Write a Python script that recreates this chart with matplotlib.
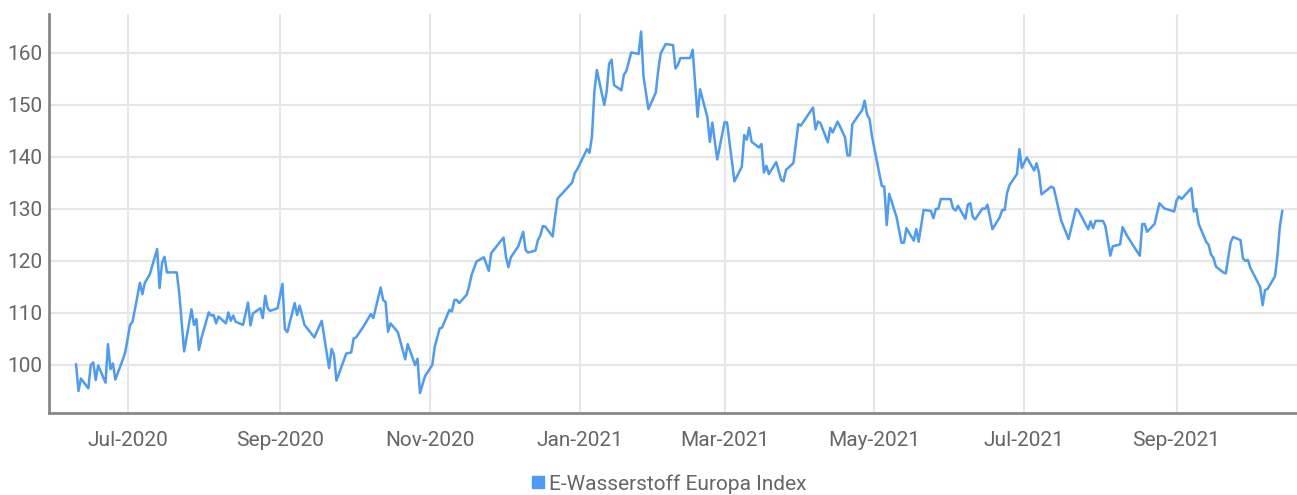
import matplotlib
matplotlib.use("Agg")
import matplotlib.pyplot as plt
import matplotlib.dates as mdates
from matplotlib.lines import Line2D
import pandas as pd

# index level; day = days since 2020-07-01
start = pd.Timestamp("2020-07-01")
days = [-21, -20, -19, -16, -15, -14, -13, -12, -9, -8, -7, -6, -5, -2, -1,
        1, 2, 5, 6, 7, 9, 12, 13, 14, 15, 16, 20, 21, 23, 26, 27, 28, 29, 30,
        33, 34, 35, 36, 37, 40, 41, 42, 43, 44, 47, 49, 50, 51, 54, 55, 56, 57,
        58, 61, 63, 64, 65, 68, 69, 70, 72, 76, 79, 82, 83, 84, 85, 89, 91, 92,
        93, 96, 99, 100, 103, 104, 105, 106, 107, 110, 113, 114, 117, 118, 119,
        121, 124, 125, 127, 128, 131, 132, 133, 134, 135, 138, 139, 140, 142,
        145, 147, 148, 153, 154, 155, 156, 159, 161, 162, 163, 166, 167, 168,
        169, 170, 173, 174, 175, 181, 182, 183, 187, 188, 189, 190, 191, 194,
        195, 196, 197, 198, 201, 202, 203, 205, 208, 209, 210, 212, 215, 216,
        217, 219, 222, 223, 224, 225, 229, 230, 232, 233, 236, 237, 238, 240,
        243, 244, 247, 250, 251, 252, 253, 254, 257, 258, 259, 260, 261, 264,
        266, 267, 268, 271, 273, 274, 279, 280, 281, 282, 285, 286, 287, 289,
        292, 293, 294, 295, 299, 300, 301, 302, 303, 307, 308, 309, 310, 313,
        315, 316, 317, 320, 321, 322, 324, 327, 328, 329, 330, 331, 335, 336,
        337, 338, 341, 342, 343, 344, 345, 348, 349, 350, 352, 355, 356, 357,
        358, 359, 362, 363, 364, 366, 369, 370, 371, 372, 376, 377, 380, 383,
        386, 387, 391, 392, 393, 394, 397, 398, 400, 401, 404, 405, 407, 412,
        413, 414, 415, 418, 420, 422, 426, 427, 428, 429, 433, 434, 435, 436,
        439, 440, 441, 442, 443, 446, 447, 449, 450, 453, 454, 455, 456, 457,
        461, 462, 463, 464, 467, 468, 469, 470]
values = [100.1, 95.0, 97.4, 95.5, 100.0, 100.5, 97.1, 99.9, 96.6, 104.0, 99.2,
          100.3, 97.2, 101.0, 102.4,
          107.7, 108.3, 115.8, 113.6, 115.8, 117.4, 122.3, 114.8, 119.6, 120.8,
          117.8, 117.8, 113.8, 102.6, 110.7, 107.7, 108.8, 102.9, 105.1,
          110.1, 109.5, 109.6, 108.0, 109.3, 108.0, 110.1, 108.5, 109.5, 108.3,
          107.7, 112.0, 107.6, 109.9, 110.9, 109.0, 113.3, 110.9,
          110.4, 110.9, 115.6, 106.9, 106.3, 111.9, 109.6, 111.4, 107.7, 105.3,
          108.5, 99.4, 103.1, 101.9, 97.0, 102.2, 102.4, 105.1,
          105.3, 107.4, 109.8, 109.0, 114.9, 112.5, 112.1, 106.4, 108.0, 106.3,
          101.1, 104.0, 100.0, 101.2, 94.6,
          97.8, 100.0, 103.5, 107.0, 107.2, 110.6, 110.3, 112.5, 112.5, 111.9,
          113.5, 115.1, 117.3, 119.9,
          120.7, 118.1, 121.5, 124.5, 120.8, 118.8, 120.7, 122.8, 125.6, 122.1,
          121.6, 122.0, 124.0, 124.9,
          126.7, 126.6, 124.7, 128.5, 132.0, 135.1, 136.9, 137.6, 141.5, 140.8,
          143.9, 152.6, 156.7, 150.0,
          152.6, 157.9, 158.7, 153.8, 152.8, 155.8, 156.5, 160.1, 159.8, 164.1,
          155.4, 149.2, 152.4, 156.7,
          159.9, 161.7, 161.5, 157.0, 157.7, 159.0, 159.0, 160.6, 147.7, 153.0,
          147.6, 142.9, 146.6, 139.5,
          146.7, 146.6, 135.3, 138.1, 144.2, 143.3, 145.6, 142.9, 141.8, 142.5,
          137.0, 138.3, 136.7, 139.0,
          135.6, 135.3, 137.5, 138.8, 146.3, 146.0, 149.5, 145.3, 146.8, 146.5,
          142.8, 145.6, 144.7, 146.8,
          143.8, 140.3, 140.3, 146.3, 149.0, 150.8, 148.1, 147.3, 143.9, 134.4,
          134.3, 126.9, 132.9, 128.4,
          123.5, 123.5, 126.3, 123.9, 126.1, 123.7, 129.8, 129.6, 128.2, 130.0,
          130.0, 131.9, 131.9, 130.1,
          129.7, 130.6, 128.1, 130.8, 131.1, 128.5, 128.0, 130.1, 130.0, 130.8,
          126.1, 128.4, 129.8, 129.8,
          133.1, 134.6, 136.7, 141.5, 137.9, 139.9, 137.4, 138.8, 136.9, 132.8,
          134.3, 134.0, 127.8, 124.2,
          130.0, 129.7, 126.1, 127.6, 126.3, 127.7, 127.7, 126.7, 121.0, 122.8,
          123.2, 126.5, 124.7, 121.0,
          127.1, 127.1, 125.6, 127.1, 131.1, 130.1, 129.5, 131.7, 132.4, 131.9,
          134.0, 129.5, 130.0, 127.1,
          123.7, 123.1, 121.2, 120.6, 118.9, 117.8, 117.6, 123.6, 124.6, 124.0,
          120.5, 120.0, 120.2, 118.7,
          115.0, 111.5, 114.4, 114.6, 117.0, 120.8, 126.6, 129.6]

series_name = "E-Wasserstoff Europa Index"
line_color = "#4d9bf5"
text_color = "#666666"

dates = start + pd.to_timedelta(days, unit="D")

plt.rcParams["font.family"] = ["Roboto", "DejaVu Sans"]

fig = plt.figure(figsize=(12.97, 4.95), dpi=100)
ax = fig.add_axes([0.0378, 0.166, 0.9622, 0.806])

ax.plot(dates, values, color=line_color, lw=1.8, zorder=3)

ax.set_ylim(90.8, 167.5)
ax.set_xlim(pd.Timestamp("2020-05-30"), pd.Timestamp("2021-10-20"))
ax.set_yticks(range(100, 161, 10))
ax.xaxis.set_major_locator(mdates.MonthLocator(bymonth=[1, 3, 5, 7, 9, 11]))
ax.xaxis.set_major_formatter(mdates.DateFormatter("%b-%Y"))

ax.grid(True, color="#e6e6e6", lw=1.5, zorder=0)
for s in ["top", "right"]:
    ax.spines[s].set_visible(False)
for s in ["left", "bottom"]:
    ax.spines[s].set_color("#888888")
    ax.spines[s].set_linewidth(2)
ax.tick_params(length=0, labelsize=15, colors=text_color)
ax.tick_params(axis="x", pad=13)
ax.tick_params(axis="y", pad=5)

handle = Line2D([], [], ls="none", marker="s", ms=8, color=line_color)
fig.legend([handle], [series_name], loc="lower center", bbox_to_anchor=(0.515, -0.035),
           frameon=False, fontsize=15, labelcolor=text_color, handletextpad=0.1,
           handlelength=0.8)

fig.savefig("out.png", dpi=100)
